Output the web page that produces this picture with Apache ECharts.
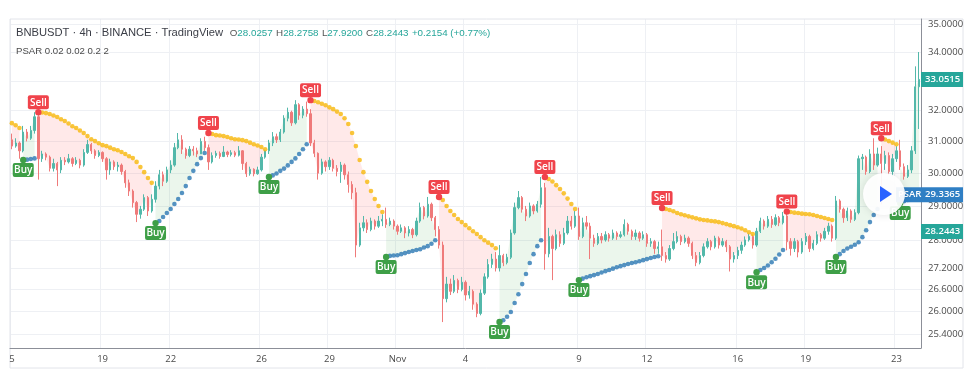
<!DOCTYPE html>
<html>
<head>
<meta charset="utf-8">
<title>BNBUSDT 4h PSAR</title>
<script src="https://cdn.jsdelivr.net/npm/echarts@6/dist/echarts.min.js"></script>
<style>
  html, body { margin: 0; padding: 0; background: #fff; }
  #chart { width: 975px; height: 377px; }
</style>
</head>
<body>
<div id="chart"></div>
<script>
// 4h candles, 15 Oct 00:00 -> 23 Nov 20:00 (open = previous close)
var firstOpen = 31.05;
var closes = [
  30.85, 30.95, 30.70, 31.30, 31.10, 31.35, 31.80, 30.45, 30.60, 30.50,
  30.15, 30.30, 30.10, 30.40, 30.35, 30.45, 30.30, 30.40, 30.25, 30.65,
  30.90, 30.70, 30.55, 30.65, 30.45, 30.10, 30.35, 30.20, 30.25, 30.05,
  29.70, 29.45, 29.10, 28.75, 28.90, 29.25, 28.85, 29.20, 29.60, 29.95,
  29.75, 30.10, 30.25, 30.80, 31.05, 30.75, 30.55, 30.75, 30.70, 30.60,
  31.00, 30.80, 30.35, 30.55, 30.62, 30.52, 30.66, 30.58, 30.64, 30.56,
  30.70, 30.30, 29.98, 30.12, 29.98, 30.10, 30.50, 30.70, 30.95, 31.15,
  31.05, 31.30, 31.75, 31.95, 31.60, 32.20, 31.85, 32.05, 31.90, 30.95,
  30.62, 30.00, 30.35, 30.20, 30.40, 30.15, 30.05, 30.25, 29.95, 29.65,
  29.40, 27.85, 28.35, 28.50, 28.30, 28.55, 28.40, 28.55, 28.60, 28.45,
  28.55, 28.40, 28.25, 28.35, 28.20, 28.30, 28.15, 28.55, 28.95, 28.70,
  29.05, 28.65, 28.30, 27.85, 26.35, 26.75, 26.55, 26.85, 26.60, 26.80,
  26.45, 26.55, 26.20, 25.95, 26.50, 26.95, 27.30, 27.45, 27.20, 27.55,
  27.35, 27.50, 28.20, 28.95, 29.25, 28.90, 28.70, 29.00, 28.85, 29.05,
  29.55, 27.60, 28.10, 27.75, 28.15, 27.90, 28.20, 28.55, 28.40, 28.70,
  28.10, 28.50, 28.40, 28.05, 27.90, 28.10, 28.00, 28.15, 28.05, 28.20,
  28.10, 28.15, 28.45, 28.25, 28.10, 28.20, 28.05, 28.15, 27.90, 27.95,
  27.75, 27.80, 27.55, 27.45, 27.75, 27.95, 28.10, 27.95, 28.05, 27.90,
  27.55, 27.35, 27.55, 27.80, 27.95, 27.80, 28.05, 27.85, 27.95, 27.80,
  27.45, 27.55, 27.70, 27.85, 28.00, 28.10, 27.85, 28.25, 28.55, 28.40,
  28.60, 28.45, 28.65, 28.50, 28.70, 27.95, 27.75, 27.95, 27.65, 27.95,
  28.10, 27.75, 27.90, 28.15, 28.05, 28.25, 28.40, 28.05, 29.15, 28.90,
  28.65, 28.85, 28.60, 28.80, 30.45, 30.50, 30.05, 30.60, 30.25, 30.60,
  30.30, 30.55, 30.05, 30.45, 30.70, 30.20, 29.90, 30.10, 30.70, 32.80,
  33.0515
];
var highs = [
  31.25, 31.10, 31.00, 31.50, 31.40, 31.50, 31.95, 31.85, 30.70, 30.65,
  30.55, 30.45, 30.35, 30.50, 30.50, 30.60, 30.50, 30.50, 30.45, 30.75,
  31.05, 30.95, 30.75, 30.72, 30.68, 30.50, 30.45, 30.40, 30.35, 30.30,
  30.10, 29.80, 29.50, 29.15, 29.00, 29.35, 29.30, 29.35, 29.75, 30.10,
  30.05, 30.20, 30.40, 30.95, 31.27, 31.20, 30.80, 30.85, 30.85, 30.80,
  31.10, 31.15, 30.90, 30.65, 30.70, 30.68, 30.85, 30.70, 30.72, 30.70,
  30.85, 30.72, 30.35, 30.20, 30.15, 30.20, 30.60, 30.73, 31.05, 31.30,
  31.25, 31.40, 31.85, 32.10, 32.00, 32.35, 32.25, 32.15, 32.30, 32.05,
  31.05, 30.65, 30.45, 30.40, 30.50, 30.45, 30.25, 30.35, 30.30, 30.05,
  29.75, 29.55, 28.50, 28.70, 28.60, 28.65, 28.60, 28.70, 28.75, 28.95,
  28.65, 28.60, 28.45, 28.45, 28.40, 28.40, 28.35, 28.65, 29.10, 29.00,
  29.27, 29.10, 28.70, 28.40, 27.95, 26.95, 26.90, 27.00, 26.90, 26.95,
  26.85, 26.70, 26.60, 26.25, 26.60, 27.05, 27.45, 27.60, 27.65, 27.85,
  27.60, 27.60, 28.30, 29.10, 29.45, 29.30, 29.00, 29.10, 29.05, 29.15,
  29.88, 29.70, 28.35, 28.15, 28.30, 28.25, 28.35, 28.70, 28.70, 28.85,
  28.95, 28.65, 28.70, 28.50, 28.15, 28.20, 28.20, 28.25, 28.20, 28.30,
  28.25, 28.25, 28.60, 28.50, 28.30, 28.30, 28.25, 28.25, 28.20, 28.05,
  28.00, 27.95, 28.30, 27.65, 27.85, 28.20, 28.25, 28.15, 28.15, 28.10,
  27.95, 27.65, 27.65, 27.90, 28.05, 28.00, 28.12, 28.10, 28.05, 28.00,
  27.85, 27.65, 27.80, 27.95, 28.10, 28.18, 28.15, 28.35, 28.65, 28.60,
  28.70, 28.70, 28.75, 28.70, 28.82, 28.80, 28.05, 28.05, 28.00, 28.05,
  28.20, 28.15, 28.00, 28.25, 28.20, 28.35, 28.50, 28.45, 29.30, 29.20,
  28.95, 28.95, 28.90, 28.90, 30.55, 30.60, 30.55, 30.75, 31.10, 30.80,
  30.85, 30.70, 30.65, 30.60, 30.85, 31.05, 30.30, 30.25, 30.85, 33.50,
  34.00
];
var lows = [
  30.75, 30.80, 30.45, 30.65, 31.00, 31.05, 31.25, 29.80, 30.35, 30.40,
  30.05, 30.05, 29.60, 30.00, 30.25, 30.30, 30.20, 30.25, 30.15, 30.20,
  30.60, 30.60, 30.45, 30.50, 30.35, 29.80, 29.95, 30.10, 30.05, 29.95,
  29.55, 29.30, 28.95, 28.52, 28.62, 28.85, 28.70, 28.80, 29.10, 29.50,
  29.60, 29.70, 30.00, 30.20, 30.75, 30.60, 30.45, 30.50, 30.55, 30.50,
  30.60, 30.70, 30.10, 30.30, 30.48, 30.45, 30.50, 30.50, 30.52, 30.50,
  30.52, 30.10, 29.88, 29.92, 29.90, 29.95, 30.05, 30.45, 30.60, 30.85,
  30.95, 30.98, 31.25, 31.65, 31.50, 31.55, 31.70, 31.75, 31.80, 30.85,
  30.50, 29.80, 29.95, 30.05, 30.10, 30.05, 29.90, 29.70, 29.80, 29.40,
  29.20, 27.50, 27.80, 28.25, 28.20, 28.25, 28.30, 28.35, 28.40, 28.35,
  28.40, 28.30, 28.15, 28.20, 28.05, 28.10, 28.05, 28.10, 28.50, 28.60,
  28.65, 28.55, 28.10, 27.75, 25.72, 26.25, 26.45, 26.50, 26.50, 26.55,
  26.30, 26.35, 26.05, 25.85, 25.90, 26.45, 26.90, 27.20, 27.10, 27.10,
  27.25, 27.30, 27.45, 28.15, 28.90, 28.80, 28.55, 28.65, 28.75, 28.80,
  28.95, 27.15, 27.50, 26.86, 27.70, 27.80, 27.85, 28.15, 28.30, 28.35,
  28.00, 28.05, 28.30, 27.45, 27.80, 27.85, 27.90, 27.95, 27.95, 28.00,
  28.00, 28.05, 28.10, 28.15, 28.00, 28.00, 27.95, 28.00, 27.80, 27.80,
  27.60, 27.60, 27.40, 27.35, 27.40, 27.70, 27.90, 27.85, 27.90, 27.80,
  27.45, 27.25, 27.30, 27.50, 27.75, 27.70, 27.75, 27.75, 27.80, 27.65,
  27.10, 27.35, 27.45, 27.60, 27.80, 27.95, 27.75, 27.80, 28.20, 28.30,
  28.35, 28.35, 28.40, 28.40, 28.45, 27.70, 27.55, 27.65, 27.50, 27.60,
  27.85, 27.65, 27.70, 27.85, 27.95, 28.00, 28.15, 27.95, 28.00, 28.80,
  28.50, 28.55, 28.50, 28.55, 28.75, 30.10, 29.95, 30.00, 30.10, 30.20,
  29.05, 30.10, 29.95, 29.90, 30.35, 30.10, 29.80, 29.85, 30.00, 30.60,
  31.40
];
// PSAR 0.02 0.02 0.2, one dot per bar
var psar = [
  31.59, 31.52, 31.43, 30.41, 30.42, 30.44, 30.46, 31.95, 31.94, 31.92,
  31.89, 31.84, 31.79, 31.72, 31.66, 31.58, 31.49, 31.43, 31.35, 31.27,
  31.17, 31.07, 31.01, 30.94, 30.88, 30.85, 30.80, 30.75, 30.72, 30.66,
  30.60, 30.53, 30.47, 30.35, 30.19, 30.03, 29.85, 29.70, 28.49, 28.55,
  28.67, 28.79, 28.91, 29.06, 29.21, 29.39, 29.60, 29.85, 30.07, 30.28,
  30.47, 30.63, 31.27, 31.24, 31.20, 31.19, 31.17, 31.14, 31.10, 31.07,
  31.06, 31.04, 31.01, 30.96, 30.91, 30.87, 30.82, 30.75, 29.88, 29.93,
  29.99, 30.07, 30.14, 30.24, 30.35, 30.46, 30.60, 30.75, 30.91, 32.35,
  32.32, 32.28, 32.23, 32.18, 32.11, 32.05, 31.97, 31.89, 31.75, 31.56,
  31.27, 30.85, 30.41, 30.03, 29.73, 29.45, 29.21, 29.00, 28.82, 27.51,
  27.54, 27.55, 27.56, 27.59, 27.62, 27.65, 27.68, 27.71, 27.73, 27.78,
  27.82, 27.89, 27.99, 29.27, 29.18, 29.00, 28.85, 28.73, 28.61, 28.52,
  28.43, 28.34, 28.25, 28.17, 28.08, 27.99, 27.92, 27.85, 27.76, 25.72,
  25.77, 25.86, 25.99, 26.23, 26.47, 26.75, 27.03, 27.34, 27.59, 27.82,
  27.99, 29.88, 29.82, 29.74, 29.63, 29.51, 29.38, 29.22, 29.06, 28.91,
  26.86, 26.90, 26.94, 26.97, 27.00, 27.03, 27.07, 27.11, 27.14, 27.18,
  27.22, 27.25, 27.28, 27.31, 27.34, 27.36, 27.39, 27.42, 27.45, 27.48,
  27.51, 27.53, 28.94, 28.91, 28.88, 28.84, 28.79, 28.75, 28.72, 28.69,
  28.66, 28.63, 28.60, 28.58, 28.57, 28.55, 28.54, 28.52, 28.49, 28.46,
  28.43, 28.40, 28.37, 28.33, 28.28, 28.22, 28.17, 27.08, 27.14, 27.20,
  27.27, 27.36, 27.46, 27.58, 27.71, 28.83, 28.82, 28.80, 28.79, 28.77,
  28.76, 28.75, 28.73, 28.70, 28.67, 28.64, 28.61, 28.58, 27.51, 27.59,
  27.68, 27.75, 27.80, 27.86, 27.93, 28.08, 28.28, 28.52, 28.73, 28.91,
  31.10, 31.06, 31.01, 30.96, 30.91, 29.09, 29.14, 29.18, 29.22, 29.27,
  29.3365
];
var buyBars = [3, 38, 68, 99, 129, 150, 197, 218, 235];
var sellBars = [7, 52, 79, 113, 141, 172, 205, 230];
var dayTicks = [0, 24, 42, 66, 84, 102, 120, 150, 168, 192, 210, 234];
var dayLabels = ['5', '19', '22', '26', '29', 'Nov', '4', '9', '12', '16', '19', '23'];
var priceTicks = [25.4, 26, 26.6, 27.2, 28, 29, 30, 31, 32, 33, 34, 35];
var priceMin = 25.04, priceMax = 35.18;
var lastPrice = 33.0515, psarLast = 29.3365, headerClose = 28.2443;

var UP = '#53b8aa', DOWN = '#ef7a7a';
var YELLOW = '#f7b80a', BLUE = '#2c78b4';
var FONT = '"Open Sans", "Noto Sans", sans-serif';
var HFONT = '"Liberation Sans", Arial, sans-serif';
var L = Math.log;

// categories: one per 4h bar
var times = [];
var t0 = Date.UTC(2020, 9, 15);
for (var k = 0; k < closes.length; k++) {
  var d = new Date(t0 + k * 4 * 3600 * 1000);
  times.push((d.getUTCMonth() + 1) + '-' + d.getUTCDate() + ' ' + d.getUTCHours() + ':00');
}

var opens = closes.map(function (c, i) { return i === 0 ? firstOpen : closes[i - 1]; });
var candleData = closes.map(function (c, i) {
  return [L(opens[i]), L(c), L(lows[i]), L(highs[i])];
});

// trend per bar from the signals (starts in a down trend)
var trendUp = [];
var up = false;
for (var i = 0; i < closes.length; i++) {
  if (buyBars.indexOf(i) >= 0) up = true;
  if (sellBars.indexOf(i) >= 0) up = false;
  trendUp.push(up);
}
var segments = [];
for (var i = 0; i < closes.length; i++) {
  if (i === 0 || trendUp[i] !== trendUp[i - 1]) segments.push({ from: i, to: i, up: trendUp[i] });
  else segments[segments.length - 1].to = i;
}

var dotsUp = [], dotsDown = [];
psar.forEach(function (v, i) {
  (trendUp[i] ? dotsUp : dotsDown).push([i, L(v)]);
});

var signalData = buyBars.map(function (i) { return [i, L(psar[i]), 1]; })
  .concat(sellBars.map(function (i) { return [i, L(psar[i]), 0]; }));

var chart = echarts.init(document.getElementById('chart'));

chart.setOption({
  animation: false,
  backgroundColor: '#ffffff',
  grid: { left: 10, right: 54, top: 19, bottom: 29 },
  xAxis: {
    type: 'category',
    data: times,
    boundaryGap: true,
    axisLine: { show: true, lineStyle: { color: '#8c8f98', width: 1 } },
    axisTick: { show: false },
    axisLabel: {
      margin: 6,
      color: '#4a4a4a',
      fontSize: 9.5,
      fontFamily: FONT,
      interval: function (idx) { return dayTicks.indexOf(idx) >= 0; },
      formatter: function (v, idx) { return dayLabels[dayTicks.indexOf(idx)]; }
    },
    splitLine: {
      show: true,
      interval: function (idx) { return dayTicks.indexOf(idx) >= 0; },
      lineStyle: { color: '#eef0f4', width: 1 }
    }
  },
  yAxis: {
    type: 'value',
    position: 'right',
    min: L(priceMin),
    max: L(priceMax),
    axisLine: { show: true, lineStyle: { color: '#8c8f98', width: 1 } },
    axisTick: { show: false, customValues: priceTicks.map(L) },
    axisLabel: {
      margin: 7,
      color: '#4a4a4a',
      fontSize: 9.5,
      fontFamily: FONT,
      customValues: priceTicks.map(L),
      formatter: function (v) { return Math.exp(v).toFixed(4); }
    },
    splitLine: { show: true, lineStyle: { color: '#eef0f4', width: 1 } }
  },
  series: [
    {
      name: 'fill',
      type: 'custom',
      silent: true,
      z: 1,
      data: segments.map(function (s) { return [s.from, L(psar[s.from])]; }),
      renderItem: function (params, api) {
        var s = segments[params.dataIndex];
        var pts = [];
        for (var i = s.from; i <= s.to; i++) pts.push(api.coord([i, L(psar[i])]));
        for (var j = s.to; j >= s.from; j--) pts.push(api.coord([j, L(closes[j])]));
        return {
          type: 'polygon',
          shape: { points: pts },
          style: { fill: s.up ? 'rgba(76,175,80,0.11)' : 'rgba(255,82,82,0.13)' }
        };
      }
    },
    {
      name: 'BNBUSDT',
      type: 'candlestick',
      z: 2,
      barWidth: 1.8,
      data: candleData,
      itemStyle: {
        color: UP, color0: DOWN,
        borderColor: UP, borderColor0: DOWN,
        borderWidth: 1
      }
    },
    {
      name: 'PSAR up',
      type: 'scatter',
      z: 3,
      symbolSize: 4.6,
      itemStyle: { color: BLUE },
      data: dotsUp
    },
    {
      name: 'PSAR down',
      type: 'scatter',
      z: 3,
      symbolSize: 4.6,
      itemStyle: { color: YELLOW },
      data: dotsDown
    },
    {
      name: 'signals',
      type: 'custom',
      z: 4,
      data: signalData,
      renderItem: function (params, api) {
        var p = api.coord([api.value(0), api.value(1)]);
        var isBuy = api.value(2) === 1;
        var col = isBuy ? '#3e9f47' : '#f0434b';
        var w = 21, h = 14;
        var top = isBuy ? p[1] + 3 : p[1] - 3 - h;
        return {
          type: 'group',
          children: [
            { type: 'circle', shape: { cx: p[0], cy: p[1], r: 3.2 }, style: { fill: col } },
            { type: 'rect', shape: { x: p[0] - w / 2, y: top, width: w, height: h, r: 2 }, style: { fill: col } },
            {
              type: 'text',
              style: {
                x: p[0], y: top + h / 2 + 0.5,
                text: isBuy ? 'Buy' : 'Sell',
                fill: '#ffffff',
                font: '600 10px ' + FONT,
                align: 'center', verticalAlign: 'middle'
              }
            }
          ]
        };
      }
    }
  ]
});

// header, frame and price tags
function py(v) { return chart.convertToPixel({ yAxisIndex: 0 }, L(v)); }
function tag(v, color, text) {
  var y = py(v);
  return [
    { type: 'rect', z: 100, shape: { x: 921, y: y - 7.5, width: 42, height: 15 }, style: { fill: color } },
    { type: 'text', z: 101, style: { x: 925, y: y, text: text, fill: '#fff', font: '600 9.5px ' + FONT, verticalAlign: 'middle' } }
  ];
}
var yPsar = py(psarLast);
var g = [
  { type: 'rect', z: 0, silent: true, shape: { x: 10, y: 19, width: 953, height: 349 },
    style: { fill: 'none', stroke: '#e2e4ea', lineWidth: 1 } },
  { type: 'text', z: 100, style: { x: 16, y: 33,
    text: '{t|BNBUSDT · 4h · BINANCE · TradingView}  {g|O}{v|28.0257} {g|H}{v|28.2758} {g|L}{v|27.9200} {g|C}{v|28.2443} {v|+0.2154 (+0.77%)}',
    verticalAlign: 'middle',
    rich: {
      t: { fill: '#3b3e47', font: '11.2px ' + HFONT },
      g: { fill: '#555', font: '9.8px ' + HFONT },
      v: { fill: '#26a69a', font: '9.8px ' + HFONT }
    } } },
  { type: 'text', z: 100, style: { x: 16, y: 51, text: 'PSAR 0.02 0.02 0.2 2',
    fill: '#4a4a4a', font: '9.6px ' + HFONT, verticalAlign: 'middle' } },
  { type: 'rect', z: 100, shape: { x: 896, y: yPsar - 7.5, width: 25, height: 15 }, style: { fill: '#2f7fc4' } },
  { type: 'text', z: 101, style: { x: 898, y: yPsar, text: 'PSAR', fill: '#fff', font: '600 9.5px ' + FONT, verticalAlign: 'middle' } }
];
g = g.concat(tag(lastPrice, '#26a69a', '33.0515'))
     .concat(tag(psarLast, '#2f7fc4', '29.3365'))
     .concat(tag(headerClose, '#26a69a', '28.2443'));
// video play overlay seen on the screenshot
g.push({ type: 'circle', z: 110, shape: { cx: 884, cy: 194, r: 21 },
  style: { fill: 'rgba(255,255,255,0.93)', shadowBlur: 8, shadowColor: 'rgba(0,0,0,0.12)' } });
g.push({ type: 'polygon', z: 111, shape: { points: [[880, 186], [880, 202], [892, 194]] },
  style: { fill: '#2962ff' } });
chart.setOption({ graphic: g });
</script>
</body>
</html>
